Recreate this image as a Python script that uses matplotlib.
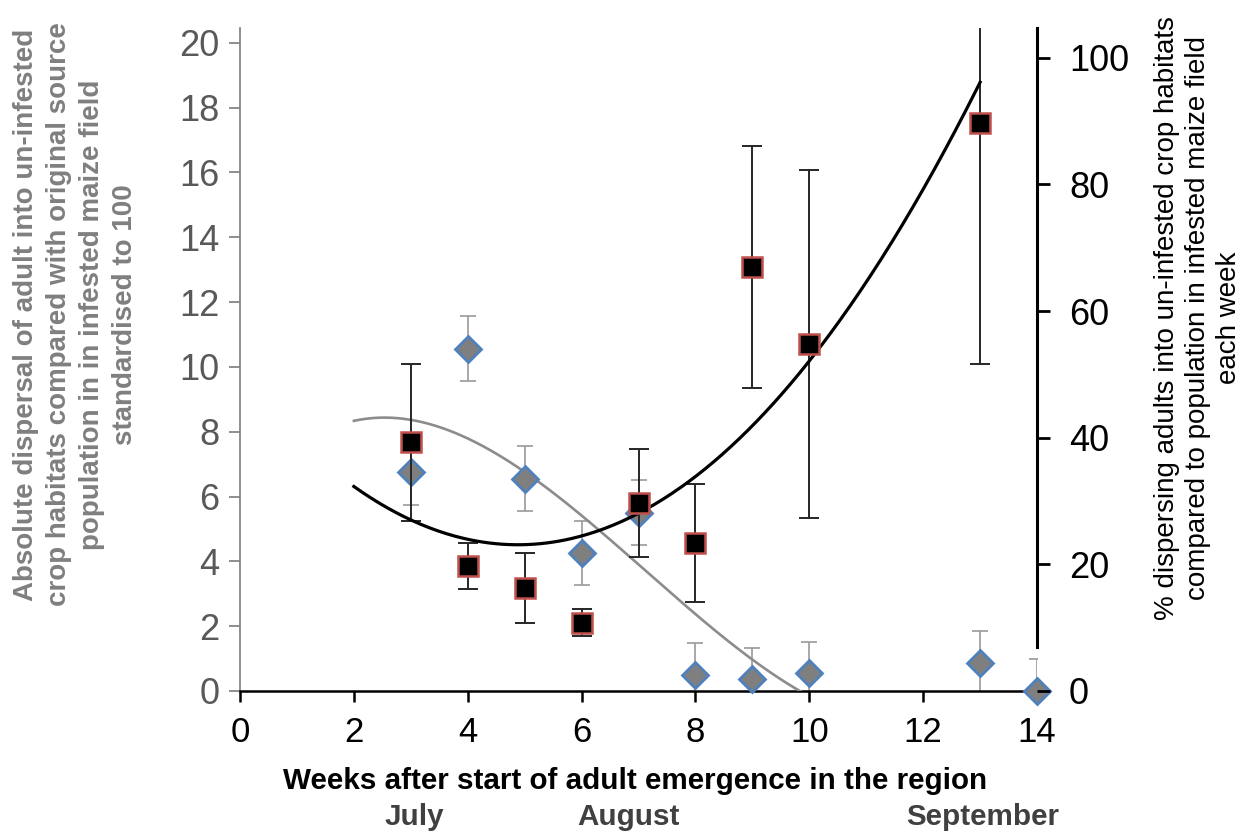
import numpy as np
import matplotlib.pyplot as plt

# Absolute dispersal (left axis) - diamonds
abs_weeks = [3, 4, 5, 6, 7, 8, 9, 10, 13, 14]
abs_disp = [6.76, 10.56, 6.55, 4.26, 5.50, 0.49, 0.37, 0.56, 0.86, 0.0]
abs_err = [1.02, 1.00, 1.00, 0.98, 1.01, 0.99, 0.96, 0.95, 0.99, 1.00]

# % dispersing adults (right axis) - squares
pct_weeks = [3, 4, 5, 6, 7, 8, 9, 10, 13]
pct_disp = [39.3, 19.7, 16.3, 10.8, 29.7, 23.4, 66.9, 54.8, 89.7]
pct_err = [12.4, 3.6, 5.5, 2.1, 8.5, 9.3, 19.1, 27.5, 38.0]

months = ["July", "August", "September"]
month_pos = [3.07, 6.82, 13.05]

left_ticks = [0, 2, 4, 6, 8, 10, 12, 14, 16, 18, 20]
right_ticks = [0, 20, 40, 60, 80, 100]
x_ticks = [0, 2, 4, 6, 8, 10, 12, 14]

gray_txt = '#595959'
label_gray = '#7f7f7f'
sans = ['Liberation Sans', 'DejaVu Sans']

fig = plt.figure(figsize=(12.52, 8.32), dpi=100)
ax = fig.add_axes([0.1917, 0.1695, 0.6366, 0.7969])
ax2 = ax.twinx()

# polynomial trendlines, extended one week backwards
xs = np.linspace(2, 13, 300)
c_abs = np.polyfit(abs_weeks, abs_disp, 3)
c_pct = np.polyfit(pct_weeks, pct_disp, 2)

ax.errorbar(abs_weeks, abs_disp, yerr=abs_err, fmt='none', ecolor='#9a9a9a',
            elinewidth=1.2, capsize=6, capthick=1.2, zorder=2)
ax.plot(xs, np.polyval(c_abs, xs), color='#8c8c8c', lw=1.9, zorder=3)
ax.plot(abs_weeks, abs_disp, 'D', ms=13, mfc='#7f7f7f', mec='#4f81bd', mew=2,
        ls='none', clip_on=False, zorder=4)

ax2.errorbar(pct_weeks, pct_disp, yerr=pct_err, fmt='none', ecolor='#262626',
             elinewidth=1.4, capsize=7, capthick=1.4, zorder=2)
ax2.plot(xs, np.polyval(c_pct, xs), color='black', lw=2.3, zorder=3)
ax2.plot(pct_weeks, pct_disp, 's', ms=14, mfc='black', mec='#c0504d', mew=1.8,
         ls='none', zorder=4)

ax.set_xlim(0, 14)
ax.set_ylim(0, 20.46)
ax2.set_ylim(0, 104.7)
ax.set_xticks(x_ticks)
ax.set_yticks(left_ticks)
ax2.set_yticks(right_ticks)

for sp in ['top', 'right']:
    ax.spines[sp].set_visible(False)
for sp in ['top', 'left', 'bottom']:
    ax2.spines[sp].set_visible(False)
ax.spines['left'].set_color('#868686')
ax.spines['left'].set_linewidth(1.3)
ax.spines['bottom'].set_color('black')
ax.spines['bottom'].set_linewidth(1.8)
ax2.spines['right'].set_color('black')
ax2.spines['right'].set_linewidth(2.2)
ax2.spines['right'].set_bounds(7, 104.7)

ax.tick_params(axis='y', direction='out', length=8, width=1.3, color='#868686',
               labelcolor=gray_txt, labelsize=26, pad=7)
ax.tick_params(axis='x', direction='out', length=8, width=1.8, color='black',
               labelcolor='black', labelsize=25, pad=10)
ax2.tick_params(axis='y', direction='out', length=9, width=2.0, color='black',
                labelcolor='black', labelsize=26, pad=14)

for lab in ax.get_yticklabels() + ax.get_xticklabels() + ax2.get_yticklabels():
    lab.set_family(sans)

fig.text(0.060, 0.622,
         'Absolute dispersal of adult into un-infested\n'
         'crop habitats compared with original source\n'
         'population in in infested maize field\n'
         'standardised to 100',
         rotation=90, ha='center', va='center', multialignment='center',
         fontsize=20, fontweight='bold', color=label_gray, family=sans,
         linespacing=1.35)
fig.text(0.957, 0.618,
         '% dispersing adults into un-infested crop habitats\n'
         'compared to population in infested maize field\n'
         'each week',
         rotation=90, ha='center', va='center', multialignment='center',
         fontsize=20, color='black', family=sans, linespacing=1.25)

fig.text(0.507, 1 - 781 / 832, 'Weeks after start of adult emergence in the region',
         ha='center', va='center', fontsize=21.3, fontweight='bold', color='black',
         family=sans)
# months sit on a row below the axis title
for name, pos in zip(months, month_pos):
    ax.text(pos, -(817 - 691) / 663, name, transform=ax.get_xaxis_transform(),
            ha='center', va='center', fontsize=21.3, fontweight='bold',
            color='#404040', family=sans)

fig.savefig('out.png', dpi=100)
